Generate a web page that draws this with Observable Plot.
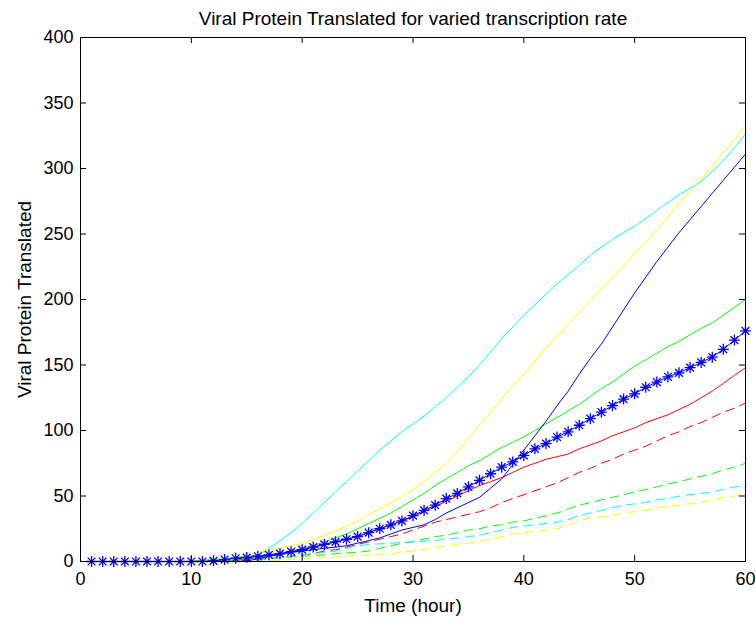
<!DOCTYPE html>
<html>
<head>
<meta charset="utf-8">
<script src="https://cdn.jsdelivr.net/npm/d3@7"></script>
<script src="https://cdn.jsdelivr.net/npm/@observablehq/plot@0.6"></script>
<style>
  body { margin: 0; background: #fff; }
</style>
</head>
<body>
<div id="chart"></div>
<script>
const hours = d3.range(1, 61);
const xTicks = [0, 10, 20, 30, 40, 50, 60];
const yTicks = [0, 50, 100, 150, 200, 250, 300, 350, 400];

const cyanSolid = [0,0,0,0,0,0,0,0,0,0,0.5,1,1.5,2,3,5,10,16,22,29,37,45,53,61,69,77,85,92,99,105,111,118,125,133,141,150,160,170,179,188,196,204,212,219,226,234,240,246,251,256,262,268,274,280,285,290,298,306,316,326];
const yellowSolid = [0,0,0,0,0,0,0,0,0,0,0.5,1,2,3,5,7,9,10,12,14,17,20,23,27,31,36,40,45,50,55,61,68,75,84,94,104,114,124,134,143,153,163,172,181,190,199,208,217,226,235,244,253,263,273,283,292,302,312,322,332];
const blueSolid = [0,0,0,0,0,0,0,0,0,0,0,0,0,0,0.5,2,4,6,7,8,9,10,11,12,14,16,18,21,24,26,28,32,37,41,45,49,56,63,74,85,96,107,119,130,143,155,166,179,192,205,217,229,240,251,261,271,281,291,301,311];
const greenSolid = [0,0,0,0,0,0,0,0,0,0,1,1.5,2,3,4,4.5,5,6,8,10,12,15,18,21,25,29,33,37,42,47,52,58,63,68,73,77,82,87,91,95,100,105,110,115,120,126,132,137,143,149,154,159,164,168,173,178,182,188,194,200];
const blueStar = [0,0,0,0,0,0,0,0,0,0,0,0.5,1.5,2.5,3,4,5,6,7.5,9,11,13,15,17,19,22,25,28,31,35,39,43,48,52,57,62,67,72,76,81,86,90,95,99,104,109,114,119,124,128,133,137,141,144,148,152,156,162,169,176];
const redSolid = [0,0,0,0,0,0,0,0,0,0,0,0,0.5,1,2,3,4,5,7,9,11,13,15,17,19,22,25,28,31,34,38,42,46,50,54,58,61,64,68,72,75,78,80,82,86,89,92,96,99,102,106,109,112,116,120,125,130,136,142,148];
const redDashed = [0,0,0,0,0,0,0,0,0,0,0,0,0,0,0.5,1,2,3,4,5,6,8,9,11,13,15,17,19,21,24,27,30,32,34,36,38,41,45,48,51,54,57,60,64,68,71,75,78,82,85,88,92,96,99,103,106,110,114,117,121];
const greenDashed = [0,0,0,0,0,0,0,0,0,0,0,0,0.5,1,1.5,2,2.5,3,3.5,4,4.5,5,6,6.5,7,8,10,12,14,15,17,19,20,22,24,25,27,28,30,31,33,35,37,40,43,45,47,49,51,53,55,57,59,61,63,65,67,70,72,75];
const cyanDashed = [0,0,0,0,0,0,0,0,0,0,0,0,0,0,0.5,1,2,3,4,5,6,7,8,10,12,13,13.5,14,14.5,15,15.5,16,17,18,19,20,22,24,26,27,28,29,30,32,35,37,39,41,43,44,45,47,48,50,51,52,53,55,57,58];
const yellowDashed = [0,0,0,0,0,0,0,0,0,0,0,0,0,0,0,0,0.5,1,1.5,2,2.5,3,3.5,4,4.5,5,5.5,6,7,8,9,10.5,12,13,14,15,17,19,21,22,23,24,25,28,31,33,34,35,37,38,39,41,42,43,44,45,47,49,50,52];

const seriesList = [
  {name: "cyan", values: cyanSolid, color: "#00ffff", dash: null},
  {name: "yellow", values: yellowSolid, color: "#ffff00", dash: null},
  {name: "green", values: greenSolid, color: "#00ff00", dash: null},
  {name: "red", values: redSolid, color: "#ff0000", dash: null},
  {name: "redDashed", values: redDashed, color: "#ff0000", dash: "9,6"},
  {name: "greenDashed", values: greenDashed, color: "#00ff00", dash: "9,6"},
  {name: "cyanDashed", values: cyanDashed, color: "#00ffff", dash: "9,6"},
  {name: "yellowDashed", values: yellowDashed, color: "#ffff00", dash: "9,6"},
  {name: "blue", values: blueSolid, color: "#0000ff", dash: null},
  {name: "blueStar", values: blueStar, color: "#0000ff", dash: null}
];

const rows = s => hours.map((h, i) => ({t: h, v: s.values[i]}));

// 8-spoke asterisk (MATLAB '*')
const star8 = {
  draw(ctx, size) {
    const r = Math.sqrt(size / Math.PI);
    const d = r * Math.SQRT1_2;
    ctx.moveTo(-r, 0); ctx.lineTo(r, 0);
    ctx.moveTo(0, -r); ctx.lineTo(0, r);
    ctx.moveTo(-d, -d); ctx.lineTo(d, d);
    ctx.moveTo(-d, d); ctx.lineTo(d, -d);
  }
};

const font = "Liberation Sans, Arial, Helvetica, sans-serif";
const W = 756, H = 619;
const mL = 80, mR = 11, mT = 37, mB = 58;
const innerW = W - mL - mR, innerH = H - mT - mB;

const marks = [];
for (const s of seriesList) {
  marks.push(Plot.line(rows(s), {x: "t", y: "v", stroke: s.color, strokeWidth: 1, strokeDasharray: s.dash}));
}
marks.push(Plot.dot(rows(seriesList[seriesList.length - 1]), {x: "t", y: "v", symbol: star8, r: 5.5, stroke: "#0000ff", strokeWidth: 1.3}));

// frame and inward ticks
marks.push(Plot.frame({stroke: "#000", strokeWidth: 1}));
marks.push(Plot.tickX(xTicks, {x: d => d, stroke: "#000", insetTop: innerH - 6}));
marks.push(Plot.tickX(xTicks, {x: d => d, stroke: "#000", insetBottom: innerH - 6}));
marks.push(Plot.tickY(yTicks, {y: d => d, stroke: "#000", insetRight: innerW - 6}));
marks.push(Plot.tickY(yTicks, {y: d => d, stroke: "#000", insetLeft: innerW - 6}));

marks.push(Plot.axisX(xTicks, {tickSize: 0, tickPadding: 11, fontSize: 18, label: null, tickFormat: d => String(d)}));
marks.push(Plot.axisY(yTicks, {tickSize: 0, tickPadding: 7, fontSize: 18, label: null, tickFormat: d => String(d)}));

marks.push(Plot.text(["Viral Protein Translated for varied transcription rate"], {frameAnchor: "top", textAnchor: "middle", lineAnchor: "middle", dy: -19, fontSize: 19, fill: "#000"}));
marks.push(Plot.text(["Time (hour)"], {frameAnchor: "bottom", textAnchor: "middle", lineAnchor: "middle", dy: 44, fontSize: 19, fill: "#000"}));
marks.push(Plot.text(["Viral Protein Translated"], {frameAnchor: "left", textAnchor: "middle", lineAnchor: "middle", dx: -56, rotate: -90, fontSize: 19, fill: "#000"}));

const chart = Plot.plot({
  width: W,
  height: H,
  marginLeft: mL,
  marginRight: mR,
  marginTop: mT,
  marginBottom: mB,
  style: {fontFamily: font, background: "#fff", color: "#000", overflow: "visible"},
  x: {domain: [0, 60], axis: null},
  y: {domain: [0, 400], axis: null},
  marks
});
document.getElementById("chart").appendChild(chart);
</script>
</body>
</html>
